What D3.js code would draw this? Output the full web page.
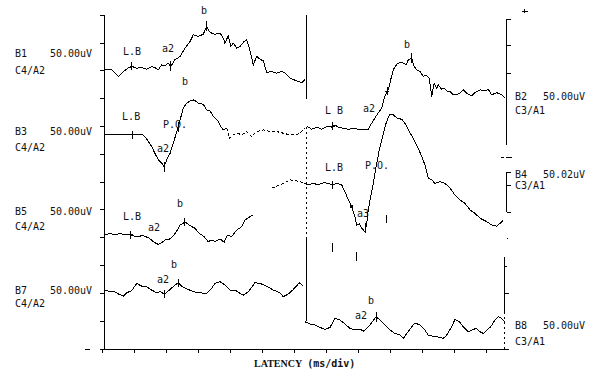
<!DOCTYPE html>
<html>
<head>
<meta charset="utf-8">
<script src="https://cdn.jsdelivr.net/npm/d3@7"></script>
<style>
body { margin: 0; background: #fff; }
text { font-family: "DejaVu Sans Mono", monospace; font-size: 10px; fill: #111; }
</style>
</head>
<body>
<svg id="chart" width="600" height="377"></svg>
<script>
// latency in ms (16 ms per division), amplitude in uV relative to channel baseline
const channels = ["B1", "B3", "B5", "B7", "B2", "B4", "B8"];
const montage = ["C4/A2", "C4/A2", "C4/A2", "C4/A2", "C3/A1", "C3/A1", "C3/A1"];
const sens = ["50.00uV", "50.00uV", "50.00uV", "50.00uV", "50.00uV", "50.02uV", "50.00uV"];

const b1 = [[1.2,2],[4.6,2],[7.9,-10],[10.4,-1],[12.8,5],[14.6,8],[17.1,5],[19.6,6],[22.1,3],[24.6,8],[26.2,6],[27.9,2],[29.6,11],[31.2,9],[32.9,14],[34.1,8],[36.2,20],[38.8,26],[41.2,41],[43.8,53],[45.4,65],[47.9,62],[50.4,66],[52.1,80],[53.4,71],[54.6,68],[56.2,66],[58.8,68],[60.4,59],[61.2,50],[62.9,63],[64.1,44],[65.4,50],[67.1,41],[68.8,44],[70.8,53],[72.1,56],[73.4,41],[75.4,11],[77.1,26],[78.8,21],[80.4,18],[82.1,-3],[84.6,-1],[87.1,-4],[89.6,-1],[91.2,-4],[93.8,-13],[97.1,-18],[99.6,-21],[101.2,-16]];
const b3 = [[1.2,-14],[3.8,-15],[6.2,-14],[8.8,-15],[11.2,-14],[13.8,-14],[16.2,-15],[19.6,-14],[21.2,-18],[22.9,-27],[24.6,-36],[26.2,-48],[27.9,-60],[29.6,-66],[30.8,-72],[32.1,-60],[33.8,-48],[35.4,-30],[37.4,-6],[38.8,12],[40.4,33],[42.1,42],[43.8,46],[45.8,48],[47.9,42],[50.4,40],[52.1,30],[53.8,28],[55.4,18],[57.9,9],[59.1,0],[60.4,-6],[62.1,-3],[63.4,-21],[65.4,-15],[67.4,-12],[69.6,-15],[72.1,-9],[74.6,-18],[77.1,-9],[80.4,-6],[83.8,-9],[87.1,-9],[90.4,-12],[93.8,-15],[97.1,-15],[99.6,-9],[101.2,-3]];
const b5 = [[1.2,5],[3.8,8],[6.2,5],[8.8,8],[11.2,5],[14.1,5],[17.1,2],[20.4,4],[23.4,-1],[25.8,-8],[27.9,-12],[29.6,-9],[31.2,-4],[33.8,-2],[35.8,5],[37.4,14],[38.8,23],[41.2,28],[43.8,22],[46.2,17],[48.4,8],[50.8,2],[52.9,-7],[54.6,-4],[56.2,-7],[58.8,-2],[60.8,-8],[62.4,5],[64.6,2],[67.1,14],[69.6,20],[71.2,32],[73.8,38],[75.4,41]];
const b7 = [[1.2,6],[3.8,3],[6.2,3],[7.9,-1],[10.4,-5],[12.1,1],[14.6,5],[17.1,18],[19.6,13],[22.1,12],[24.6,6],[27.1,1],[28.8,3],[31.2,-1],[33.8,7],[36.2,15],[37.9,18],[40.4,11],[42.9,7],[45.4,3],[48.8,1],[52.1,0],[54.6,9],[56.2,18],[58.8,21],[61.2,15],[63.8,6],[66.2,6],[68.8,0],[70.4,-3],[72.9,3],[76.2,19],[78.8,18],[82.1,13],[85.4,6],[88.8,1],[90.4,-6],[92.9,-1],[95.4,7],[98.4,19],[100.4,13]];
const b2 = [[102.1,1],[104.6,-5],[107.1,-1],[109.6,-5],[112.1,0],[114.6,-1],[116.2,3],[117.9,-1],[120.4,-3],[122.9,-5],[125.4,-3],[127.9,-5],[131.2,-6],[132.9,-5],[134.1,3],[135.1,9],[136.8,19],[138.4,27],[139.6,33],[140.4,45],[141.2,54],[142.4,63],[143.4,72],[144.1,84],[145.4,102],[147.1,112],[148.8,115],[150.4,114],[151.8,111],[152.9,120],[154.6,123],[155.8,108],[157.1,102],[158.8,99],[160.4,90],[161.8,93],[163.4,87],[164.6,54],[165.8,78],[167.1,69],[167.9,75],[169.6,67],[170.8,69],[172.1,64],[173.8,63],[175.4,57],[177.1,57],[178.8,60],[180.4,66],[182.1,60],[184.6,55],[186.2,61],[188.8,66],[191.2,64],[192.9,67],[194.6,57],[197.1,61],[199.6,57],[201.2,51]];
const b4 = [[84.6,-11],[88.8,-5],[93.8,4],[98.8,1],[101.2,-2],[102.9,-5],[105.4,-2],[107.9,-5],[110.4,-1],[112.9,-2],[115.1,-5],[117.1,-2],[119.6,-5],[121.2,-17],[122.9,-32],[124.6,-44],[126.2,-62],[127.1,-77],[128.4,-75],[129.6,-83],[131.2,-89],[132.1,-74],[132.9,-50],[134.1,-26],[135.4,-2],[136.8,28],[138.4,58],[140.1,82],[141.8,106],[143.4,121],[145.4,121],[147.4,115],[149.6,113],[151.2,106],[152.9,94],[155.4,79],[157.9,61],[159.6,46],[161.2,31],[162.9,7],[164.6,4],[166.2,-2],[168.8,1],[171.2,-2],[173.8,-11],[176.2,-23],[178.8,-32],[181.2,-38],[183.8,-50],[186.2,-56],[188.8,-65],[192.1,-71],[194.6,-77],[197.1,-79],[198.8,-74],[200.4,-68]];
const b8 = [[101.2,-1],[103.8,-5],[106.2,-7],[108.8,-11],[111.2,-15],[113.8,-11],[116.2,5],[118.8,2],[121.2,-5],[123.8,-13],[126.2,-16],[128.8,-14],[130.4,-18],[132.1,-13],[134.1,-5],[136.8,8],[138.8,2],[141.2,-7],[143.8,-16],[146.2,-22],[148.8,-25],[150.4,-31],[152.4,-21],[154.6,-10],[156.2,-3],[158.8,-7],[161.2,-16],[162.9,-25],[165.4,-27],[168.8,-29],[170.4,-31],[172.1,-25],[174.6,-10],[176.2,3],[178.4,-1],[180.4,-10],[182.9,-19],[184.6,-16],[186.8,-13],[188.8,-19],[190.4,-22],[192.1,-16],[194.1,-10],[196.2,2],[197.9,8],[199.6,5],[201.2,-1]];
const traces = [b1, b3, b5, b7, b2, b4, b8];

// peak markers on the traces: channel, latency (ms), kind
const markers = [
  ["B1",14.6,"plus"],["B1",34.1,"tick"],["B1",52.1,"tick"],
  ["B3",15,"plus"],["B3",30.8,"tick"],["B3",37.8,"tick"],
  ["B5",14.1,"plus"],["B5",41.2,"plus"],
  ["B7",30.8,"plus"],["B7",37.9,"plus"],
  ["B2",115.2,"plus"],["B2",142.4,"plus"],["B2",154.6,"tick"],
  ["B4",115.1,"plus"],["B4",124.6,"sq"],["B4",131.6,"tick"],
  ["B8",136.8,"tick"]
];
// peak labels: channel, text, latency (ms), amplitude (uV)
const peakLabels = [
  ["B1","L.B",10.2,28],["B1","a2",29.8,34],["B1","b",49.2,102],
  ["B3","L.B",9.8,12],["B3","P.O.",30.2,-3],["B3","a2",27.2,-46],["B3","b",39.8,74],
  ["B5","L.B",10.2,32],["B5","a2",22.8,12],["B5","b",37.2,55],
  ["B7","a2",27.2,18],["B7","b",34.2,45],
  ["B2","L B",111.2,22],["B2","a2",130.2,26],["B2","b",150.8,141],
  ["B4","L.B",111.2,20],["B4","P.O.",131.2,24],["B4","a3",127.2,-63],
  ["B8","a2",126.2,4],["B8","b",132.8,31]
];
// stray latency bars (ms, from div, to div)
const latBars = [[142.2,4.53,4.81],[114.8,3.49,3.81],[127.2,3.16,3.49]];

// layout
const baseRow = {B1:10, B3:8, B5:4, B7:2, B2:8, B4:6, B8:1};
const nameRow = {B1:10.49, B3:7.69, B5:4.81, B7:1.98, B2:8.95, B4:6.14, B8:0.72};
const montDy = {B1:17, B3:16, B5:15, B7:13, B2:14, B4:11, B8:16};
const dashSpan = {B3:[62.1, Infinity], B4:[-Infinity, 101.2]};

const svg = d3.select("#chart");
const x = d3.scaleLinear().domain([0, 200]).range([102.5, 502.5]);
const y = d3.scaleLinear().domain([0, 12]).range([349, 15.3]);
const uvPerDiv = 50;
const yc = (ch, v) => y(baseRow[ch] + v / uvPerDiv);

const ink = "#000";
const g = svg.append("g").attr("shape-rendering", "crispEdges");

function seg(x1, y1, x2, y2, dash) {
  g.append("line").attr("x1", x1).attr("y1", y1).attr("x2", x2).attr("y2", y2)
    .attr("stroke", ink).attr("stroke-width", 1)
    .attr("stroke-dasharray", dash || null);
}

// left axis
seg(x(1), y(12), x(1), y(0));
d3.range(0, 13).forEach(k => seg(x(1) - 5, y(k), x(1), y(k)));
seg(x(-8.8), y(0), x(-6.2), y(0));
// bottom axis
seg(x(-1), y(0), x(203), y(0));
d3.range(0, 200, 16).forEach(t => seg(x(t), y(0), x(t), y(0) + 4));

// middle separator
const xm = x(101.8);
seg(xm, y(12), xm, y(9));
seg(xm, y(8), xm, y(4), "2,3");
seg(xm, y(4), xm, y(1));

// right side frame
const xr = x(202.2);
seg(xr, y(11.86), xr, y(7.33));
[11.86, 10.9, 9.9].forEach(k => seg(xr, y(k), xr + 4, y(k)));
seg(x(199), y(6.9), x(200.5), y(6.9));
seg(x(201.5), y(6.9), x(204.5), y(6.9));
seg(xr, y(6.36), xr, y(4.92));
[6.36, 5.89, 4.92].forEach(k => seg(xr, y(k), xr + 4, y(k)));
seg(xr, y(3.99), xr + 1, y(3.99));
const xr2 = x(201.1);
seg(xr2, y(3.31), xr2, y(1.33));
seg(xr2, y(2.95), xr2 + 2, y(2.95));
seg(xr2, y(1.98), xr2 + 4, y(1.98));
seg(xr2, y(1.33), xr2, y(0), "2,3");
seg(x(209.5), y(12.15), x(212.5), y(12.15));
seg(x(211), y(12.15) - 2, x(211), y(12.15) + 2);

// traces
const line = ch => d3.line().x(d => x(d[0])).y(d => yc(ch, d[1]));
channels.forEach((ch, i) => {
  const data = traces[i];
  const span = dashSpan[ch];
  if (!span) {
    g.append("path").datum(data).attr("d", line(ch))
      .attr("fill", "none").attr("stroke", ink).attr("stroke-width", 1);
    return;
  }
  const before = data.filter(d => d[0] <= span[0]);
  const inside = data.filter(d => d[0] >= span[0] && d[0] <= span[1]);
  const after = data.filter(d => d[0] >= span[1]);
  [before, after].forEach(part => {
    if (part.length > 1) g.append("path").datum(part).attr("d", line(ch))
      .attr("fill", "none").attr("stroke", ink).attr("stroke-width", 1);
  });
  g.append("path").datum(inside).attr("d", line(ch))
    .attr("fill", "none").attr("stroke", ink).attr("stroke-width", 1)
    .attr("stroke-dasharray", "3,2");
});

// markers
function valueAt(data, t) {
  const i = d3.bisector(d => d[0]).left(data, t);
  if (i <= 0) return data[0][1];
  if (i >= data.length) return data[data.length - 1][1];
  const a = data[i - 1], b = data[i];
  return a[1] + (b[1] - a[1]) * (t - a[0]) / (b[0] - a[0]);
}
markers.forEach(([ch, t, kind]) => {
  const px = x(t), py = yc(ch, valueAt(traces[channels.indexOf(ch)], t));
  if (kind === "sq") {
    g.append("rect").attr("x", px - 1.5).attr("y", py - 1.5).attr("width", 3).attr("height", 3).attr("fill", ink);
    return;
  }
  const h = kind === "plus" ? 4 : 5;
  seg(px, py - h, px, py + h);
  if (kind === "plus") seg(px - 2, py, px + 2, py);
});
latBars.forEach(([t, lo, hi]) => seg(x(t), y(hi), x(t), y(lo)));

// channel labels
channels.forEach((ch, i) => {
  const right = i >= 4;
  const nx = right ? 515 : 15, sx = right ? 543 : 50;
  const ty = y(nameRow[ch]);
  svg.append("text").attr("x", nx).attr("y", ty).text(ch);
  svg.append("text").attr("x", sx).attr("y", ty).text(sens[i]);
  svg.append("text").attr("x", nx).attr("y", ty + montDy[ch]).text(montage[i]);
});

// peak labels
peakLabels.forEach(([ch, txt, t, v]) => {
  svg.append("text").attr("x", x(t)).attr("y", yc(ch, v)).text(txt);
});

// x axis title
const title = svg.append("text").attr("x", 254).attr("y", 367).style("font-weight", "bold");
title.append("tspan").style("font-family", "'Liberation Serif', serif").style("font-size", "10px").text("LATENCY");
title.append("tspan").attr("dx", 5).text("(ms/div)");
</script>
</body>
</html>
